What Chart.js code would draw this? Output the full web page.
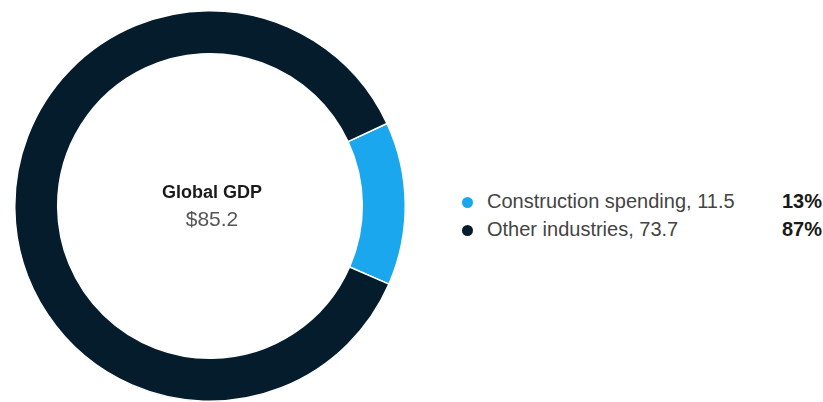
<!DOCTYPE html>
<html>
<head>
<meta charset="utf-8">
<script src="https://cdn.jsdelivr.net/npm/chart.js@4"></script>
<style>
  body { margin: 0; background: #fff; font-family: "Liberation Sans", Arial, sans-serif; }
  #wrap { position: relative; width: 823px; height: 402px; overflow: hidden; }
  #donutBox { position: absolute; left: 0; top: 0; width: 420px; height: 402px; }
  #center { position: absolute; left: 0; width: 424px; top: 178px; text-align: center; }
  #center .t { font-weight: bold; font-size: 18px; color: #1a1a1a; line-height: 28px; }
  #center .v { font-size: 21px; color: #555; line-height: 26px; }
  .row { position: absolute; left: 461px; width: 361px; height: 26px; font-size: 20px; color: #444; }
  .row .dot { position: absolute; left: 1px; top: 8px; width: 11px; height: 11px; border-radius: 50%; }
  .row .lab { position: absolute; left: 26px; top: 1px; }
  .row .pct { position: absolute; right: 0; top: 1px; font-weight: bold; color: #1a1a1a; }
</style>
</head>
<body>
<div id="wrap">
  <div id="donutBox"><canvas id="myChart"></canvas></div>
  <div id="center"><div class="t">Global GDP</div><div class="v">$85.2</div></div>
  <div id="legend"></div>
</div>
<script>
/*Doughnut chart Global GDP*/
const labels = ["Construction spending", "Other industries"];
const values = [11.5, 73.7];
const percents = ["13%", "87%"];
const colors = ["#1aa7ee", "#051c2c"];

const data = {
  labels: labels,
  datasets: [
    {
      data: values,
      backgroundColor: colors,
      borderColor: "#ffffff",
      borderWidth: 1.5,
    },
  ],
};
const config = {
  type: "doughnut",
  data: data,
  options: {
    responsive: true,
    maintainAspectRatio: false,
    animation: false,
    cutout: "78%",
    rotation: 65,
    layout: { padding: { top: 10, bottom: 0 } },
    plugins: {
      legend: { display: false },
      tooltip: { enabled: false },
    },
  },
};
var myChart = new Chart(document.getElementById("myChart"), config);

// legend rows
const legend = document.getElementById("legend");
const rowTops = [189, 217];
labels.forEach(function (lab, i) {
  const row = document.createElement("div");
  row.className = "row";
  row.style.top = rowTops[i] + "px";
  row.innerHTML =
    '<span class="dot" style="background:' + colors[i] + '"></span>' +
    '<span class="lab">' + lab + ", " + values[i] + "</span>" +
    '<span class="pct">' + percents[i] + "</span>";
  legend.appendChild(row);
});
</script>
</body>
</html>
